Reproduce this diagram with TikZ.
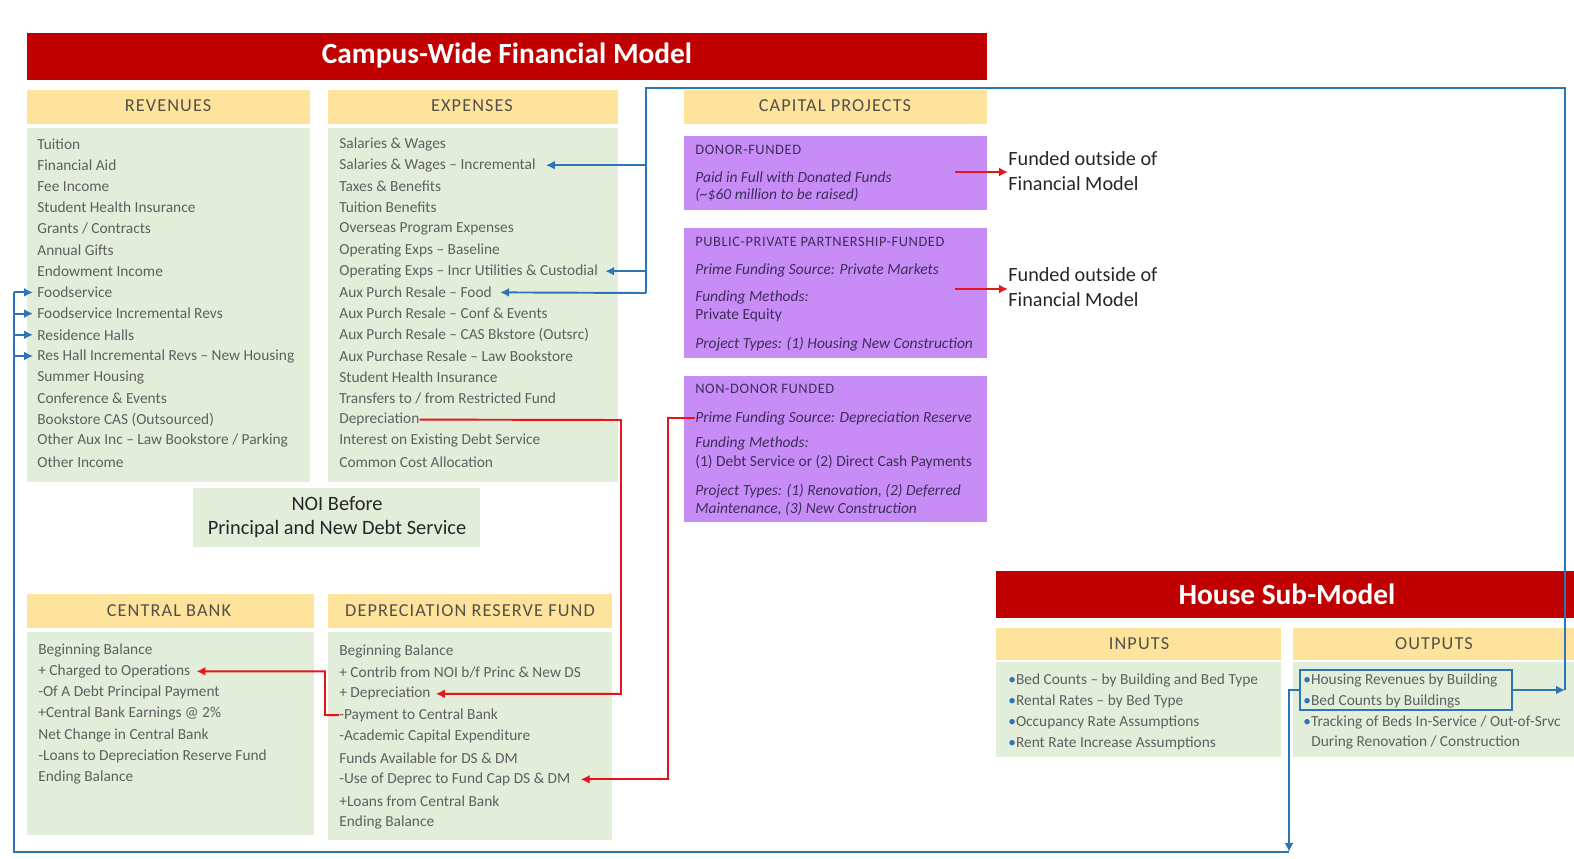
\documentclass[tikz,border=0pt]{standalone}
\usepackage{fontspec}
\setmainfont{Carlito}
\usepackage{xcolor}
\usetikzlibrary{arrows.meta, positioning, calc}
\definecolor{barred}{HTML}{C00000}
\definecolor{hdrfill}{HTML}{FDE39C}
\definecolor{panelgreen}{HTML}{E3EEDA}
\definecolor{cappurple}{HTML}{C88CF6}
\definecolor{itemgray}{HTML}{5F5F5F}
\definecolor{hdrgray}{HTML}{555048}
\definecolor{purpletext}{HTML}{3C2F5C}
\definecolor{linkblue}{HTML}{2E75B6}
\definecolor{linkred}{HTML}{E8141C}
\newcommand{\itembul}{\textcolor{linkblue}{\textbullet}}

\begin{document}
\begin{tikzpicture}[x=0.2mm, y=-0.2mm,
    bartitle/.style={text=white, font=\fontsize{16.7}{19}\selectfont\bfseries},
    hdrtext/.style={text=hdrgray, font=\fontsize{10.4}{12}\selectfont\addfontfeature{LetterSpace=6}},
    listitem/.style={anchor=west, inner sep=0pt, text=itemgray, font=\fontsize{8.75}{10.5}\selectfont},
    capitem/.style={anchor=west, inner sep=0pt, text=purpletext, font=\fontsize{8.8}{10.5}\selectfont\itshape},
    capplain/.style={capitem, font=\fontsize{8.8}{10.5}\selectfont},
    capcap/.style={capitem, font=\fontsize{8.2}{10}\selectfont\addfontfeature{LetterSpace=4}},
    fundnote/.style={anchor=west, align=left, inner sep=0pt, text=black!85, font=\fontsize{11.5}{14.2}\selectfont},
    bluelink/.style={draw=linkblue, line width=1.1pt},
    redlink/.style={draw=linkred, line width=1.1pt},
    arrowend/.style={-{Latex[length=1.8mm, width=1.8mm]}}]

    \useasboundingbox (0,0) rectangle (1574,859);

    % title bars
    \fill[barred] (27,33) rectangle (987,80);
    \node[bartitle] (cwtitle) at (507,56) {Campus-Wide Financial Model};
    \fill[barred] (996,571) rectangle (1574,618);
    \node[bartitle] (housetitle) at (1287,594) {House Sub-Model};

    % headers
    \fill[hdrfill] (27,90) rectangle (310,124);
    \node[hdrtext] (revhdr) at (168,106) {REVENUES};
    \fill[hdrfill] (328,90) rectangle (618,124);
    \node[hdrtext] (exphdr) at (472,106) {EXPENSES};
    \fill[hdrfill] (684,90) rectangle (987,124);
    \node[hdrtext] (caphdr) at (835,106) {CAPITAL PROJECTS};
    \fill[hdrfill] (27,594) rectangle (314,628);
    \node[hdrtext] (cbhdr) at (169,611) {CENTRAL BANK};
    \fill[hdrfill] (328,594) rectangle (612,628);
    \node[hdrtext] (dephdr) at (470,611) {DEPRECIATION RESERVE FUND};
    \fill[hdrfill] (996,628) rectangle (1281,660);
    \node[hdrtext] (inhdr) at (1139,644) {INPUTS};
    \fill[hdrfill] (1293,628) rectangle (1574,660);
    \node[hdrtext] (outhdr) at (1434,644) {OUTPUTS};

    % green panels
    \fill[panelgreen] (27,128) rectangle (310,482);
    \fill[panelgreen] (328,128) rectangle (618,482);
    \fill[panelgreen] (193,488) rectangle (480,547);
    \fill[panelgreen] (27,632) rectangle (314,835);
    \fill[panelgreen] (328,632) rectangle (612,840);
    \fill[panelgreen] (996,662) rectangle (1281,757);
    \fill[panelgreen] (1293,662) rectangle (1574,757);

    % purple panels
    \fill[cappurple] (684,136) rectangle (987,210);
    \fill[cappurple] (684,228) rectangle (987,358);
    \fill[cappurple] (684,376) rectangle (987,522);

    % revenues
    \foreach \t [count=\i] in {Tuition, Financial Aid, Fee Income, Student Health Insurance,
        Grants / Contracts, Annual Gifts, Endowment Income, Foodservice,
        Foodservice Incremental Revs, Residence Halls, Res Hall Incremental Revs -- New Housing,
        Summer Housing, Conference \& Events, Bookstore CAS (Outsourced),
        Other Aux Inc -- Law Bookstore / Parking, Other Income}
        \node[listitem] (rev\i) at (37,{144+(\i-1)*21.2}) {\t};

    % expenses
    \foreach \t [count=\i] in {Salaries \& Wages, Salaries \& Wages -- Incremental, Taxes \& Benefits,
        Tuition Benefits, Overseas Program Expenses, Operating Exps -- Baseline,
        Operating Exps -- Incr Utilities \& Custodial, Aux Purch Resale -- Food,
        Aux Purch Resale -- Conf \& Events, Aux Purch Resale -- CAS Bkstore (Outsrc),
        Aux Purchase Resale -- Law Bookstore, Student Health Insurance,
        Transfers to / from Restricted Fund, Depreciation,
        Interest on Existing Debt Service, Common Cost Allocation}
        \node[listitem] (exp\i) at (339,{144+(\i-1)*21.2}) {\t};

    \node[align=center, text=black!85, font=\fontsize{11.6}{13.9}\selectfont] (noi) at (337,517)
        {NOI Before\\Principal and New Debt Service};

    % central bank
    \foreach \t [count=\i] in {Beginning Balance, + Charged to Operations,
        -Of A Debt Principal Payment, +Central Bank Earnings @ 2\%,
        Net Change in Central Bank, -Loans to Depreciation Reserve Fund, Ending Balance}
        \node[listitem] (cb\i) at (38,{650+(\i-1)*21.3}) {\t};

    % depreciation reserve fund
    \foreach \t [count=\i] in {Beginning Balance, + Contrib from NOI b/f Princ \& New DS,
        + Depreciation, -Payment to Central Bank, -Academic Capital Expenditure,
        Funds Available for DS \& DM, -Use of Deprec to Fund Cap DS \& DM,
        +Loans from Central Bank, Ending Balance}
        \node[listitem] (dep\i) at (339,{651+(\i-1)*21.4}) {\t};

    % capital projects
    \node[capcap] (dnr1) at (695,150) {DONOR-FUNDED};
    \node[capitem] (dnr2) at (695,177) {Paid in Full with Donated Funds};
    \node[capitem] (dnr3) at (695,195) {(\textasciitilde\$60 million to be raised)};
    \node[capcap] (ppp1) at (695,242) {PUBLIC-PRIVATE PARTNERSHIP-FUNDED};
    \node[capitem] (ppp2) at (695,270) {Prime Funding Source: Private Markets};
    \node[capitem] (ppp3) at (695,297) {Funding Methods:};
    \node[capplain] (ppp4) at (695,315) {Private Equity};
    \node[capitem] (ppp5) at (695,344) {Project Types: (1) Housing New Construction};
    \node[capcap] (nd1) at (695,389) {NON-DONOR FUNDED};
    \node[capitem] (nd2) at (695,418) {Prime Funding Source: Depreciation Reserve};
    \node[capitem] (nd3) at (695,443) {Funding Methods:};
    \node[capplain] (nd4) at (695,462) {(1) Debt Service or (2) Direct Cash Payments};
    \node[capitem] (nd5) at (695,491) {Project Types: (1) Renovation, (2) Deferred};
    \node[capitem] (nd6) at (695,509) {Maintenance, (3) New Construction};

    \node[fundnote] (fo1) at (1008,171) {Funded outside of\\Financial Model};
    \node[fundnote] (fo2) at (1008,287) {Funded outside of\\Financial Model};

    % house sub-model
    \foreach \t [count=\i] in {Bed Counts -- by Building and Bed Type, Rental Rates -- by Bed Type,
        Occupancy Rate Assumptions, Rent Rate Increase Assumptions}
        \node[listitem] (in\i) at (1008,{680+(\i-1)*21}) {\itembul\t};
    \node[listitem] (out1) at (1303,680) {\itembul Housing Revenues by Building};
    \node[listitem] (out2) at (1303,701) {\itembul Bed Counts by Buildings};
    \node[listitem] (out3) at (1303,722) {\itembul Tracking of Beds In-Service / Out-of-Srvc};
    \node[listitem] (out4) at (1311,742) {During Renovation / Construction};
    \node[draw=linkblue, line width=1pt, minimum width=42.4mm, minimum height=8mm] (outbox) at (1406,690) {};

    % blue links
    \coordinate (outR) at (1565,690);
    \coordinate (topR) at (1565,88);
    \coordinate (topL) at (646,88);
    \coordinate (trunkE) at (646,293);
    \draw[bluelink, arrowend] (outbox.east) -- (outR);
    \draw[bluelink] (outR) -- (topR) -- (topL) -- (trunkE);
    \draw[bluelink, arrowend] (topL |- exp2) -- ([xshift=2mm]exp2.east);
    \draw[bluelink, arrowend] (topL |- exp7) -- ([xshift=1.4mm]exp7.east);
    \draw[bluelink, arrowend] (trunkE) -- ([xshift=1.6mm]exp8.east);

    \coordinate (loopR) at (1289,852);
    \coordinate (loopL) at (14,852);
    \coordinate (loopUp) at (14,292);
    \draw[bluelink, arrowend] (outbox.west) -| (loopR);
    \draw[bluelink] (loopR) -- (loopL) -- (loopUp);
    \foreach \i in {8,...,11}
        \draw[bluelink, arrowend] (loopL |- rev\i) -- ([xshift=-0.8mm]rev\i.west);

    % red links
    \coordinate (deprX) at (621,420);
    \coordinate (payX) at (325,715);
    \coordinate (ndX) at (668,418);
    \coordinate (dnrR) at (955,172);
    \coordinate (pppR) at (955,289);
    \draw[redlink, arrowend] (exp14.east) -- (deprX) |- ([xshift=1mm]dep3.east);
    \draw[redlink, arrowend] (dep4.west) -- (payX) |- ([xshift=1.2mm]cb2.east);
    \draw[redlink, arrowend] (nd2.west) -- (ndX) |- ([xshift=2mm]dep7.east);
    \draw[redlink, arrowend] (dnrR) -- (dnrR -| fo1.west);
    \draw[redlink, arrowend] (pppR) -- (pppR -| fo2.west);
\end{tikzpicture}
\end{document}
